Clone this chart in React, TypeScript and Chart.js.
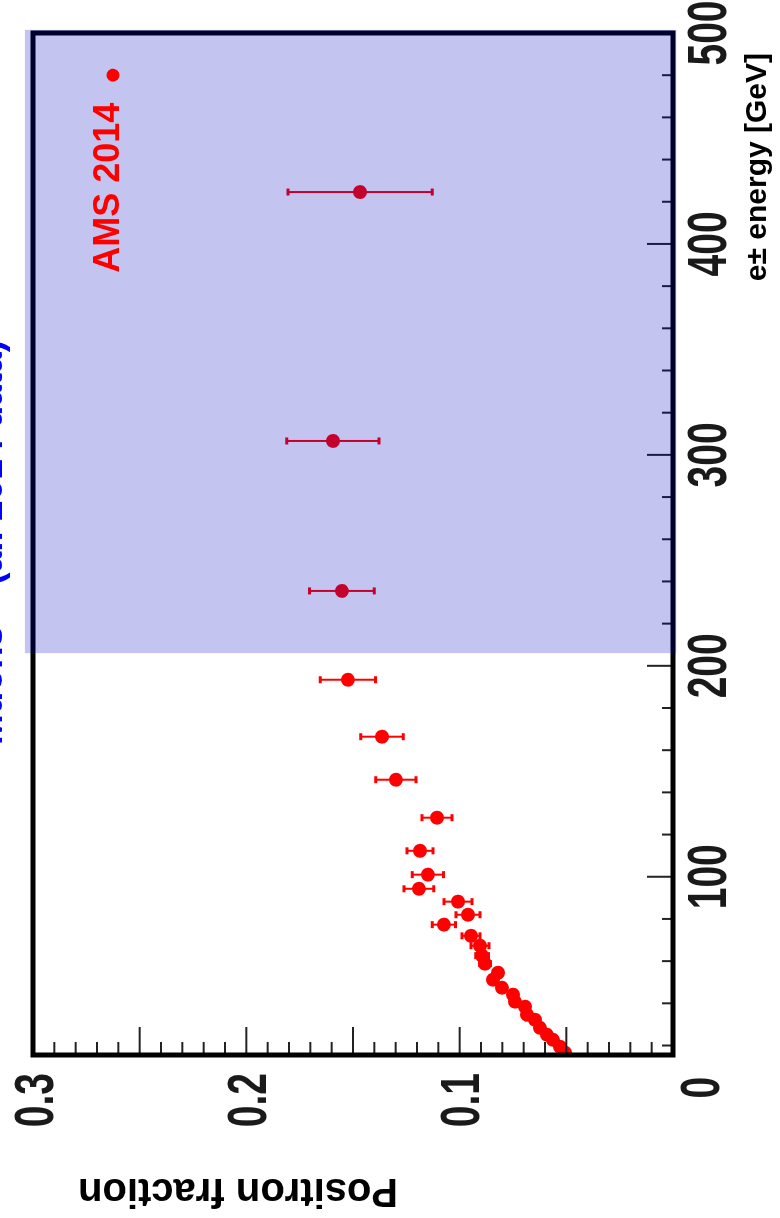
import React, { useEffect, useRef } from "react";
import { Chart, registerables } from "chart.js";

Chart.register(...registerables);

// ---- data ----
const energyGeV = [424.6, 306.6, 235.5, 193.4, 166.4, 146.0, 128.0, 112.3, 101.0, 94.3, 88.2, 82.0, 77.3, 72.0, 67.3, 62.6, 58.8, 54.5, 51.2, 47.4, 44.1, 40.8, 38.4, 34.6, 32.2, 28.4, 25.1, 22.7, 19.4, 16.6];
const positronFraction = [0.1467, 0.1594, 0.1552, 0.1524, 0.1364, 0.1299, 0.1106, 0.1186, 0.1149, 0.1191, 0.1008, 0.0961, 0.1074, 0.0947, 0.0905, 0.0895, 0.0881, 0.0820, 0.0844, 0.0802, 0.0750, 0.0741, 0.0694, 0.0684, 0.0647, 0.0624, 0.0591, 0.0563, 0.0530, 0.0506];
const fractionError = [0.0338, 0.0216, 0.0152, 0.0129, 0.0100, 0.0094, 0.0070, 0.0061, 0.0073, 0.0070, 0.0066, 0.0056, 0.0054, 0.0042, 0.0042, 0.0030, 0.0025, 0.0020, 0.0020, 0.0018, 0.0016, 0.0015, 0.0014, 0.0013, 0.0012, 0.0011, 0.0010, 0.0010, 0.0010, 0.0010];

const energyRange = [15.5, 500];
const fractionRange = [0, 0.3];
const energyTickLabels = [0, 100, 200, 300, 400, 500];
const fractionTickLabels = [0.1, 0.2, 0.3];
const energyMajorStep = 100;
const energyMinorStep = 20;
const fractionMajorStep = 0.05;
const fractionMinorStep = 0.01;
const shadedEnergy = [206, 501.5];
const shadedFraction = [-0.0015, 0.3038];

const seriesLabel = "AMS 2014";
const legendMarker = { energy: 480, fraction: 0.2625 };
const legendTextEnd = { energy: 467, fraction: 0.2597 };
const topTitle = "Muons – (all 2014 data)";
const xTitle = "e± energy [GeV]";
const yTitle = "Positron fraction";

const W = 1218;
const H = 780;
const textFont = "'Liberation Sans', Arial, sans-serif";
const labelSize = 39;
const labelStretch = 1.4;

function drawStretchedLabel(ctx: CanvasRenderingContext2D, text: string, px: number, py: number, align: CanvasTextAlign) {
  ctx.save();
  ctx.translate(px, py);
  ctx.scale(1, labelStretch);
  ctx.textAlign = align;
  ctx.textBaseline = "alphabetic";
  ctx.fillText(text, 0, labelSize * 0.358);
  ctx.restore();
}

const decor = {
  id: "decor",
  beforeDatasetsDraw(chart: any) {
    const { ctx, scales } = chart;
    const x = scales.x, y = scales.y;
    ctx.save();
    ctx.strokeStyle = "rgb(255,0,0)";
    energyGeV.forEach((e, i) => {
      const px = x.getPixelForValue(e);
      const lo = y.getPixelForValue(positronFraction[i] - fractionError[i]);
      const hi = y.getPixelForValue(positronFraction[i] + fractionError[i]);
      ctx.lineWidth = 2;
      ctx.beginPath();
      ctx.moveTo(px, lo);
      ctx.lineTo(px, hi);
      ctx.stroke();
      ctx.lineWidth = 3;
      ctx.beginPath();
      ctx.moveTo(px - 3.5, lo);
      ctx.lineTo(px + 3.5, lo);
      ctx.moveTo(px - 3.5, hi);
      ctx.lineTo(px + 3.5, hi);
      ctx.stroke();
    });
    ctx.restore();
  },
  afterDatasetsDraw(chart: any) {
    const { ctx, chartArea, scales } = chart;
    const x = scales.x, y = scales.y;
    const { left, right, top, bottom } = chartArea;
    ctx.save();
    // inward tick marks
    ctx.strokeStyle = "#222";
    ctx.lineWidth = 2;
    const eStart = Math.ceil(energyRange[0] / energyMinorStep) * energyMinorStep;
    for (let e = eStart; e < energyRange[1]; e += energyMinorStep) {
      const px = x.getPixelForValue(e);
      const len = Math.abs(e / energyMajorStep - Math.round(e / energyMajorStep)) < 1e-6 ? 26 : 11;
      ctx.beginPath();
      ctx.moveTo(px, bottom);
      ctx.lineTo(px, bottom - len);
      ctx.stroke();
    }
    const nMinor = Math.round((fractionRange[1] - fractionRange[0]) / fractionMinorStep);
    for (let k = 1; k < nMinor; k++) {
      const f = fractionRange[0] + k * fractionMinorStep;
      const py = y.getPixelForValue(f);
      const r = f / fractionMajorStep;
      const len = Math.abs(r - Math.round(r)) < 1e-6 ? 28 : 13;
      ctx.beginPath();
      ctx.moveTo(left, py);
      ctx.lineTo(left + len, py);
      ctx.stroke();
    }
    // frame
    ctx.strokeStyle = "#000";
    ctx.lineWidth = 5;
    ctx.strokeRect(left, top, right - left, bottom - top);

    // tick labels (condensed look, as in the original)
    ctx.fillStyle = "#1a1a1a";
    ctx.font = `bold ${labelSize}px ${textFont}`;
    energyTickLabels.forEach((v) => {
      drawStretchedLabel(ctx, String(v), x.getPixelForValue(v), v === 0 ? 699 : 706, "center");
    });
    fractionTickLabels.forEach((v) => {
      drawStretchedLabel(ctx, String(v), left - 18, y.getPixelForValue(v), "right");
    });
    ctx.restore();
  },
  afterDraw(chart: any) {
    const { ctx, scales } = chart;
    const x = scales.x, y = scales.y;
    ctx.save();
    // shaded band (drawn over everything beneath it)
    const bx0 = x.getPixelForValue(shadedEnergy[0]);
    const bx1 = x.getPixelForValue(shadedEnergy[1]);
    const by0 = y.getPixelForValue(shadedFraction[0]);
    const by1 = y.getPixelForValue(shadedFraction[1]);
    ctx.fillStyle = "rgba(0,0,190,0.23)";
    ctx.fillRect(bx0, by1, bx1 - bx0, by0 - by1);

    // legend
    ctx.fillStyle = "rgb(255,0,0)";
    ctx.beginPath();
    ctx.arc(x.getPixelForValue(legendMarker.energy), y.getPixelForValue(legendMarker.fraction), 6.5, 0, Math.PI * 2);
    ctx.fill();
    ctx.font = `bold 36px ${textFont}`;
    ctx.textAlign = "right";
    ctx.textBaseline = "alphabetic";
    ctx.fillText(seriesLabel, x.getPixelForValue(legendTextEnd.energy), y.getPixelForValue(legendTextEnd.fraction));

    // axis titles
    ctx.fillStyle = "#000";
    ctx.font = `bold 30px ${textFont}`;
    ctx.textAlign = "right";
    ctx.textBaseline = "alphabetic";
    ctx.fillText(xTitle, W - 53, 766);

    ctx.font = `bold 40px ${textFont}`;
    ctx.translate(28, 78);
    ctx.rotate(-Math.PI / 2);
    ctx.textAlign = "right";
    ctx.textBaseline = "middle";
    ctx.fillText(yTitle, 0, 0);
    ctx.setTransform(1, 0, 0, 1, 0, 0);

    // clipped blue title at the very top
    ctx.fillStyle = "#0000ff";
    ctx.font = `bold 37px ${textFont}`;
    ctx.textAlign = "left";
    ctx.textBaseline = "alphabetic";
    ctx.fillText(topTitle, 473, 2);
    ctx.restore();
  },
};

export default function App() {
  const ref = useRef<HTMLCanvasElement>(null);
  useEffect(() => {
    const chart = new Chart(ref.current as HTMLCanvasElement, {
      type: "scatter",
      data: {
        datasets: [
          {
            label: seriesLabel,
            data: energyGeV.map((e, i) => ({ x: e, y: positronFraction[i] })),
            backgroundColor: "rgb(255,0,0)",
            borderWidth: 0,
            pointRadius: 7,
            pointHoverRadius: 7,
          },
        ],
      },
      options: {
        animation: false,
        responsive: false,
        devicePixelRatio: 1,
        layout: { padding: { top: 33, right: 33, left: 0, bottom: 0 } },
        plugins: { legend: { display: false }, tooltip: { enabled: false } },
        events: [],
        scales: {
          x: {
            type: "linear",
            position: "bottom",
            min: energyRange[0],
            max: energyRange[1],
            grid: { display: false, drawTicks: false },
            border: { display: false },
            afterFit: (s: any) => {
              s.height = H - 673;
              s.paddingLeft = 0;
              s.paddingRight = 0;
            },
            ticks: { display: false },
          },
          y: {
            type: "linear",
            position: "left",
            min: fractionRange[0],
            max: fractionRange[1],
            grid: { display: false, drawTicks: false },
            border: { display: false },
            afterFit: (s: any) => {
              s.width = 163;
              s.paddingTop = 0;
              s.paddingBottom = 0;
            },
            ticks: { display: false },
          },
        },
      },
      plugins: [decor],
    } as any);
    return () => chart.destroy();
  }, []);

  return (
    <div style={{ position: "fixed", left: 0, top: 0, width: 780, height: 1218, overflow: "hidden", background: "#fff" }}>
      <div
        style={{
          position: "absolute",
          left: 0,
          top: 0,
          width: W,
          height: H,
          transformOrigin: "0 0",
          transform: `translateY(${W}px) rotate(-90deg)`,
        }}
      >
        <canvas ref={ref} width={W} height={H} style={{ display: "block", width: W, height: H }} />
      </div>
    </div>
  );
}
